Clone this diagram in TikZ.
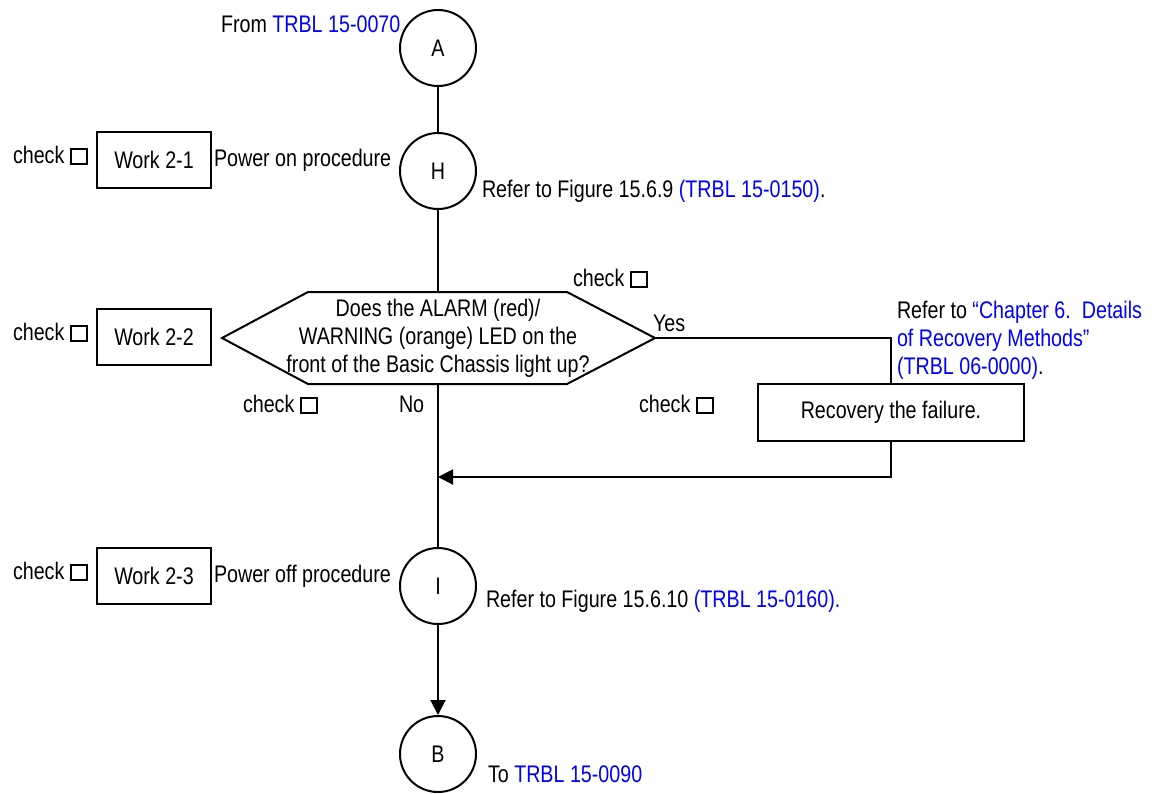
\documentclass[tikz,border=0pt]{standalone}
\usepackage{fontspec}
\setmainfont[FakeStretch=0.82]{Liberation Sans}
\usetikzlibrary{arrows.meta}
\definecolor{linkblue}{RGB}{0,0,255}
\newcommand{\lnk}[1]{\textcolor{linkblue}{#1}}
\newcommand{\cbx}{{\setlength{\fboxsep}{0pt}\setlength{\fboxrule}{2pt}\fbox{\rule{0pt}{13.5pt}\rule{13.5pt}{0pt}}}}
\newcommand{\chk}{check\hspace{6pt}\cbx}
\begin{document}
\begin{tikzpicture}[x=1pt,y=-1pt,line width=2pt,
  every node/.style={font=\fontsize{24}{28}\selectfont, inner sep=0pt},
  conn/.style={circle, draw, minimum size=76pt, inner sep=0pt},
  workbox/.style={draw, rectangle, minimum width=114pt, minimum height=56pt},
  lbl/.style={anchor=base west},
  arr/.style={-{Triangle[length=15pt,width=15pt]}}
]
\useasboundingbox (0,0) rectangle (1155,793);
\fill[white] (0,0) rectangle (1155,793);

% connectors (circles)
\node[conn] (A) at (438,48) {A};
\node[conn] (H) at (438,171) {H};
\node[conn] (I) at (438,586) {I};
\node[conn] (B) at (438,754) {B};

% work boxes
\node[workbox] (w1) at (154,160) {Work 2-1};
\node[workbox] (w2) at (154,337) {Work 2-2};
\node[workbox] (w3) at (154,576) {Work 2-3};
\node[draw, minimum width=266pt, minimum height=57pt] (rec) at (891,412.5) {Recovery the failure.};

% decision hexagon
\coordinate (dl) at (222,338);
\coordinate (dtl) at (308,292);
\coordinate (dtr) at (567,292);
\coordinate (dr) at (655,338);
\coordinate (dbr) at (567,384);
\coordinate (dbl) at (308,384);
\coordinate (dtop) at (438,292);
\coordinate (dbot) at (438,384);
\draw (dl) -- (dtl) -- (dtr) -- (dr) -- (dbr) -- (dbl) -- cycle;
\node[align=center] (q) at (438,338) {Does the ALARM (red)/\\WARNING (orange) LED on the\\front of the Basic Chassis light up?};

% flow lines
\coordinate (join) at (438,477);
\draw (A) -- (H);
\draw (H) -- (dtop);
\draw (dbot) -- (I);
\draw (dr) -| (rec.north);
\draw[arr] (rec.south) |- (join);
\draw[arr] (I) -- (B);

% labels
\node[lbl] (lfrom) at (220,32) {From \lnk{TRBL 15-0070}};
\node[lbl] (c1) at (12,163) {\chk};
\node[lbl] (p1) at (213,166) {Power on procedure};
\node[lbl] (r1) at (481,197) {Refer to Figure 15.6.9 \lnk{(TRBL 15-0150)}.};
\node[lbl] (c2top) at (572,286) {\chk};
\node[lbl] (yes) at (652,331) {Yes};
\node[lbl] (c2) at (12,340) {\chk};
\node[lbl] (cbl) at (242,412) {\chk};
\node[lbl] (no) at (398,412) {No};
\node[lbl] (cbm) at (638,412) {\chk};
\node[anchor=north west, align=left] (rref) at (896,300) {Refer to \lnk{“Chapter 6.\ \ Details}\\\lnk{of Recovery Methods”}\\\lnk{(TRBL 06-0000)}.};
\node[lbl] (c3) at (12,579) {\chk};
\node[lbl] (p3) at (213,582) {Power off procedure};
\node[lbl] (r3) at (485,607) {Refer to Figure 15.6.10 \lnk{(TRBL 15-0160).}};
\node[lbl] (lto) at (487,782) {To \lnk{TRBL 15-0090}};
\end{tikzpicture}
\end{document}
